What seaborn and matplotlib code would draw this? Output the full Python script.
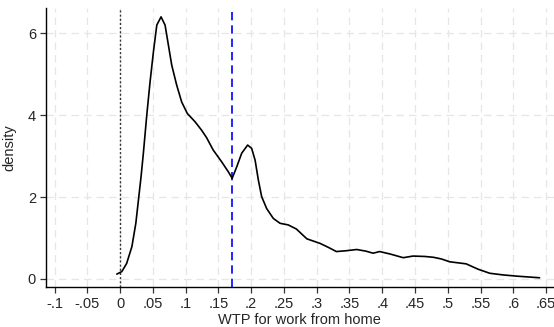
import matplotlib
matplotlib.use("Agg")
import matplotlib.pyplot as plt
import seaborn as sns
import pandas as pd

# density curve
wtp = [-0.005, 0.0026, 0.010, 0.018, 0.024, 0.028, 0.032, 0.0355, 0.0407, 0.0457,
       0.0508, 0.056, 0.0625, 0.0686, 0.0737, 0.0788, 0.0864, 0.094, 0.1026, 0.1143,
       0.1245, 0.132, 0.142, 0.155, 0.165, 0.171, 0.178, 0.1855, 0.1946, 0.2007,
       0.206, 0.211, 0.216, 0.2236, 0.2337, 0.244, 0.2566, 0.269, 0.285, 0.305,
       0.318, 0.330, 0.345, 0.361, 0.375, 0.386, 0.396, 0.412, 0.432, 0.447,
       0.465, 0.478, 0.490, 0.503, 0.528, 0.546, 0.564, 0.584, 0.605, 0.640]
density = [0.12, 0.18, 0.38, 0.79, 1.36, 1.93, 2.50, 3.07, 4.00, 4.81,
           5.54, 6.20, 6.40, 6.20, 5.71, 5.22, 4.73, 4.32, 4.04, 3.84,
           3.63, 3.45, 3.15, 2.86, 2.62, 2.46, 2.74, 3.07, 3.27, 3.19,
           2.90, 2.41, 2.01, 1.72, 1.48, 1.36, 1.32, 1.22, 0.98, 0.87,
           0.77, 0.67, 0.69, 0.72, 0.68, 0.63, 0.67, 0.61, 0.52, 0.56,
           0.55, 0.53, 0.49, 0.42, 0.37, 0.24, 0.14, 0.10, 0.07, 0.03]
mean_wtp = 0.171

xticks = [-0.1, -0.05, 0, 0.05, 0.1, 0.15, 0.2, 0.25, 0.3, 0.35, 0.4, 0.45, 0.5, 0.55, 0.6, 0.65]
xlabels = ["-.1", "-.05", "0", ".05", ".1", ".15", ".2", ".25", ".3", ".35", ".4", ".45", ".5", ".55", ".6", ".65"]
yticks = [0, 2, 4, 6]

df = pd.DataFrame({"wtp": wtp, "density": density})

sns.set_style("white")
plt.rcParams["font.family"] = ["Liberation Sans", "DejaVu Sans"]

fig = plt.figure(figsize=(5.54, 3.27), dpi=100)
ax = fig.add_axes([0.0825, 0.123, 0.917, 0.853])

for x in xticks:
    ax.axvline(x, color="#e6e6e6", lw=0.9, ls=(0, (6, 4)), zorder=0)
for y in yticks:
    ax.axhline(y, color="#e6e6e6", lw=0.9, ls=(0, (6, 4)), zorder=0)

sns.lineplot(data=df, x="wtp", y="density", color="black", lw=1.2, ax=ax, zorder=3)
ax.axvline(0, color="#333333", lw=1.0, ls=(0, (1.5, 1.5)), zorder=2)
ax.axvline(mean_wtp, color="#0000ff", lw=1.2, ls=(0, (5, 3)), zorder=2)

ax.set_xlim(-0.1135, 0.6616)
ax.set_ylim(-0.19, 6.62)
ax.set_xticks(xticks)
ax.set_xticklabels(xlabels)
ax.set_yticks(yticks)

for s in ["top", "right"]:
    ax.spines[s].set_visible(False)
for s in ["left", "bottom"]:
    ax.spines[s].set_color("black")
    ax.spines[s].set_linewidth(1.0)

ax.tick_params(axis="both", direction="out", length=4, width=0.9, color="#333333",
               labelsize=10.5, bottom=True, left=True, pad=3)
ax.set_xlabel("WTP for work from home", fontsize=10.5, labelpad=2)
ax.set_ylabel("density", fontsize=10.5, labelpad=8)

fig.savefig("out.png", dpi=100)
